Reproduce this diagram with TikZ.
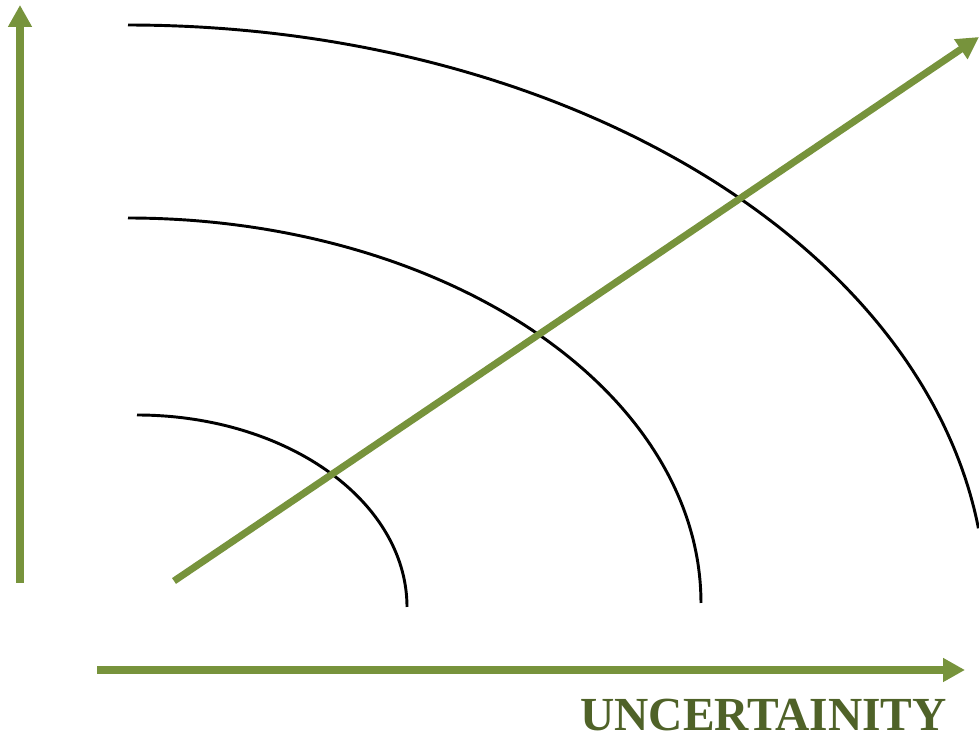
\documentclass[tikz,border=0pt]{standalone}
\usepackage{fontspec}
\setmainfont{Liberation Serif}
\usetikzlibrary{arrows.meta}
\definecolor{olivegreen}{HTML}{77933C}
\definecolor{darkolive}{HTML}{4F6228}
\tikzset{
  axisarrow/.style={draw=olivegreen, line width=6pt, -{Triangle[length=0.66cm,width=0.68cm]}},
  curve/.style={draw=black, line width=2.5pt},
  axislabel/.style={text=darkolive, font=\fontsize{40.5}{44}\selectfont\bfseries, inner sep=0pt, text depth=0pt, anchor=base west}
}
\begin{document}
\begin{tikzpicture}[x=0.03cm, y=0.03cm]
\useasboundingbox (0,0) rectangle (979,740);
% arcs
\draw[curve] plot[domain=90:7.6, samples=120] ({128+858*cos(\x)}, {135+580*sin(\x)});
\draw[curve] plot[domain=90:0, samples=120] ({128+573*cos(\x)}, {137+385*sin(\x)});
\draw[curve] plot[domain=90:0, samples=100] ({137+270*cos(\x)}, {133+192*sin(\x)});
% axes
\coordinate (vstart) at (20,157);
\coordinate (vend) at (20,735);
\coordinate (hstart) at (97,70);
\coordinate (hend) at (965,70);
\coordinate (dstart) at (174,159);
\coordinate (dend) at (979,703);
\draw[axisarrow] (vstart) -- (vend);
\draw[axisarrow] (hstart) -- (hend);
\draw[axisarrow] (dstart) -- (dend);
\node[axislabel] (label) at (580,9) {UNCERTAINITY};
\end{tikzpicture}
\end{document}
